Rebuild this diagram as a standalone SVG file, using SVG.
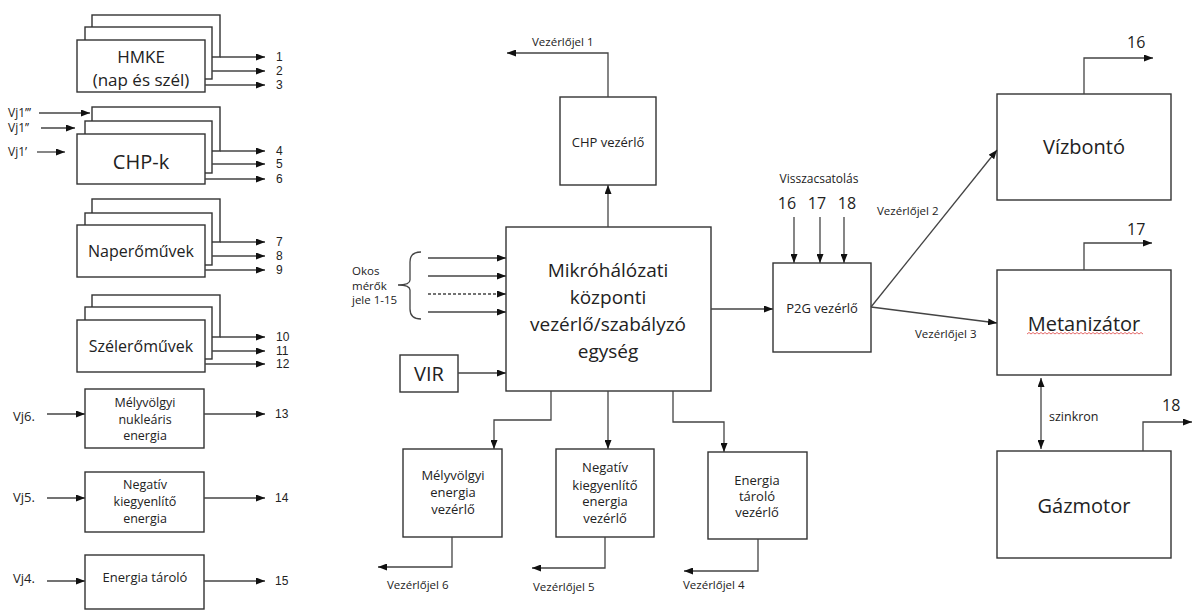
<svg xmlns="http://www.w3.org/2000/svg" width="1192" height="612" viewBox="0 0 1192 612">
<defs>
<marker id="ah" markerWidth="9" markerHeight="7" refX="9" refY="3.5" orient="auto" markerUnits="userSpaceOnUse"><path d="M0,0 L9,3.5 L0,7 Z" fill="#111"/></marker>
<marker id="ahs" markerWidth="9" markerHeight="7" refX="0" refY="3.5" orient="auto" markerUnits="userSpaceOnUse"><path d="M9,0 L0,3.5 L9,7 Z" fill="#111"/></marker>
<style>
.b{fill:#fff;stroke:#333;stroke-width:1.4}
.c{fill:none;stroke:#444;stroke-width:1.3}
.a{marker-end:url(#ah)}
.t{font-family:"Open Sans","Noto Sans",sans-serif;fill:#222}
.m{text-anchor:middle}
.n{font-family:"Liberation Sans","Open Sans",sans-serif;fill:#222;font-size:12px}
</style>
</defs>
<rect width="1192" height="612" fill="#fff"/>

<g id="hmke">
<rect class="b" x="92" y="15" width="128" height="42"/>
<rect class="b" x="85" y="27" width="127" height="52"/>
<rect class="b" x="77" y="40" width="128" height="52"/>
<text class="t m" x="141" y="63" font-size="17">HMKE</text>
<text class="t m" x="141" y="86" font-size="17">(nap és szél)</text>
</g>
<g id="chpk">
<rect class="b" x="92" y="107" width="128" height="44"/>
<rect class="b" x="85" y="121" width="127" height="52"/>
<rect class="b" x="77" y="134" width="128" height="50"/>
<text class="t m" x="141" y="169" font-size="20">CHP-k</text>
</g>
<g id="nap">
<rect class="b" x="92" y="199" width="128" height="43"/>
<rect class="b" x="85" y="213" width="127" height="52"/>
<rect class="b" x="77" y="225" width="128" height="52"/>
<text class="t m" x="141" y="257" font-size="16">Naperőművek</text>
</g>
<g id="szel">
<rect class="b" x="92" y="295" width="128" height="42"/>
<rect class="b" x="85" y="307" width="127" height="52"/>
<rect class="b" x="77" y="320" width="128" height="52"/>
<text class="t m" x="141" y="352" font-size="16">Szélerőművek</text>
</g>
<g id="melyvolgyi">
<rect class="b" x="85" y="389" width="119" height="59"/>
<text class="t m" x="145" y="407" font-size="12.5">Mélyvölgyi</text>
<text class="t m" x="145" y="424" font-size="12.5">nukleáris</text>
<text class="t m" x="145" y="440" font-size="12.5">energia</text>
</g>
<g id="negativ">
<rect class="b" x="85" y="472" width="119" height="60"/>
<text class="t m" x="145" y="489" font-size="12.5">Negatív</text>
<text class="t m" x="145" y="506" font-size="12.5">kiegyenlítő</text>
<text class="t m" x="145" y="523" font-size="12.5">energia</text>
</g>
<g id="energiataro">
<rect class="b" x="85" y="555" width="119" height="54"/>
<text class="t m" x="145" y="582" font-size="13">Energia tároló</text>
</g>

<g id="labels-left">
<text class="n" x="276" y="61">1</text><text class="n" x="276" y="75">2</text><text class="n" x="276" y="89">3</text>
<text class="n" x="276" y="155">4</text><text class="n" x="276" y="168">5</text><text class="n" x="276" y="183">6</text>
<text class="n" x="276" y="246">7</text><text class="n" x="276" y="260">8</text><text class="n" x="276" y="274">9</text>
<text class="n" x="276" y="341">10</text><text class="n" x="276" y="355">11</text><text class="n" x="276" y="368">12</text>
<text class="n" x="275" y="418">13</text><text class="n" x="275" y="502">14</text><text class="n" x="275" y="585">15</text>
<text class="t" x="8" y="117" font-size="12">Vj1’’’</text>
<text class="t" x="8" y="132" font-size="12">Vj1’’</text>
<text class="t" x="8" y="156" font-size="12">Vj1’</text>
<text class="t" x="13" y="421" font-size="13">Vj6.</text>
<text class="t" x="13" y="502" font-size="13">Vj5.</text>
<text class="t" x="13" y="583" font-size="13">Vj4.</text>
</g>

<g id="okos" class="t" font-size="11.5">
<text x="352" y="275">Okos</text>
<text x="352" y="290">mérők</text>
<text x="352" y="304">jele 1-15</text>
</g>

<g id="vir">
<rect class="b" x="400" y="355" width="58" height="37"/>
<text class="t m" x="429" y="381" font-size="20">VIR</text>
</g>

<g id="main">
<rect class="b" x="506" y="227" width="205" height="164"/>
<text class="t m" x="608" y="277" font-size="19">Mikróhálózati</text>
<text class="t m" x="608" y="304" font-size="19">központi</text>
<text class="t m" x="608" y="331" font-size="19">vezérlő/szabályzó</text>
<text class="t m" x="608" y="358" font-size="19">egység</text>
</g>

<g id="chpvez">
<rect class="b" x="560" y="97" width="96" height="88"/>
<text class="t m" x="608" y="147" font-size="13">CHP vezérlő</text>
</g>

<g id="p2g">
<rect class="b" x="773" y="263" width="98" height="89"/>
<text class="t m" x="822" y="313" font-size="13">P2G vezérlő</text>
</g>

<g id="visszacsatolas" class="t m">
<text x="819" y="183" font-size="12">Visszacsatolás</text>
<text x="787" y="209" font-size="16">16</text>
<text x="817" y="209" font-size="16">17</text>
<text x="847" y="209" font-size="16">18</text>
</g>

<g id="melyvez">
<rect class="b" x="403" y="449" width="99" height="88"/>
<text class="t m" x="453" y="480" font-size="13">Mélyvölgyi</text>
<text class="t m" x="453" y="497" font-size="13">energia</text>
<text class="t m" x="453" y="514" font-size="13">vezérlő</text>
</g>
<g id="negvez">
<rect class="b" x="556" y="449" width="98" height="88"/>
<text class="t m" x="605" y="472" font-size="13">Negatív</text>
<text class="t m" x="605" y="490" font-size="13">kiegyenlítő</text>
<text class="t m" x="605" y="506" font-size="13">energia</text>
<text class="t m" x="605" y="523" font-size="13">vezérlő</text>
</g>
<g id="enervez">
<rect class="b" x="708" y="452" width="99" height="87"/>
<text class="t m" x="757" y="485" font-size="13">Energia</text>
<text class="t m" x="757" y="501" font-size="13">tároló</text>
<text class="t m" x="757" y="517" font-size="13">vezérlő</text>
</g>

<g id="vizbonto">
<rect class="b" x="997" y="94" width="174" height="106"/>
<text class="t m" x="1084" y="154" font-size="20">Vízbontó</text>
</g>
<g id="metanizator">
<rect class="b" x="997" y="270" width="174" height="105"/>
<text class="t m" x="1084" y="331" font-size="20">Metanizátor</text>
<path d="M1027,334 l2,-1.5 l2,1.5 l2,-1.5 l2,1.5 l2,-1.5 l2,1.5 l2,-1.5 l2,1.5 l2,-1.5 l2,1.5 l2,-1.5 l2,1.5 l2,-1.5 l2,1.5 l2,-1.5 l2,1.5 l2,-1.5 l2,1.5 l2,-1.5 l2,1.5 l2,-1.5 l2,1.5 l2,-1.5 l2,1.5 l2,-1.5 l2,1.5 l2,-1.5 l2,1.5 l2,-1.5 l2,1.5 l2,-1.5 l2,1.5 l2,-1.5 l2,1.5 l2,-1.5 l2,1.5 l2,-1.5 l2,1.5 l2,-1.5 l2,1.5 l2,-1.5 l2,1.5 l2,-1.5 l2,1.5 l2,-1.5 l2,1.5 l2,-1.5 l2,1.5 l2,-1.5 l2,1.5 l2,-1.5 l2,1.5 l2,-1.5 l2,1.5 l2,-1.5 l2,1.5 l2,-1.5 l2,1.5" fill="none" stroke="#d44" stroke-width="0.8"/>
</g>
<g id="gazmotor">
<rect class="b" x="997" y="451" width="174" height="107"/>
<text class="t m" x="1084" y="513" font-size="20">Gázmotor</text>
</g>

<g id="conn-labels" class="t" font-size="11.5">
<text x="532" y="46">Vezérlőjel 1</text>
<text x="877" y="215">Vezérlőjel 2</text>
<text x="915" y="338">Vezérlőjel 3</text>
<text x="387" y="589">Vezérlőjel 6</text>
<text x="533" y="591">Vezérlőjel 5</text>
<text x="683" y="589">Vezérlőjel 4</text>
<text x="1049" y="421" font-size="12.5">szinkron</text>
<text x="1127" y="48" font-size="16">16</text>
<text x="1127" y="235" font-size="16">17</text>
<text x="1162" y="411" font-size="16">18</text>
</g>

<g id="connectors">
<path class="c a" d="M220,57 H265"/>
<path class="c a" d="M212,71 H265"/>
<path class="c a" d="M205,85 H265"/>
<path class="c a" d="M220,151 H265"/>
<path class="c a" d="M212,164 H265"/>
<path class="c a" d="M205,179 H265"/>
<path class="c a" d="M220,242 H265"/>
<path class="c a" d="M212,256 H265"/>
<path class="c a" d="M205,270 H265"/>
<path class="c a" d="M220,337 H265"/>
<path class="c a" d="M212,351 H265"/>
<path class="c a" d="M205,364 H265"/>
<path class="c a" d="M204,414 H265"/>
<path class="c a" d="M204,498 H265"/>
<path class="c a" d="M204,581 H265"/>
<path class="c a" d="M39,113 H90"/>
<path class="c a" d="M41,128 H75"/>
<path class="c a" d="M37,152 H65"/>
<path class="c a" d="M47,414 H85"/>
<path class="c a" d="M47,498 H85"/>
<path class="c a" d="M47,581 H85"/>
<path class="c" d="M421,252 Q410,252 410,262 V280 Q410,285 398,285 Q410,285 410,290 V309 Q410,319 421,319"/>
<path class="c a" d="M428,258 H506"/>
<path class="c a" d="M428,276 H506"/>
<path class="c a" d="M428,294 H506" stroke-dasharray="3,2"/>
<path class="c a" d="M428,312 H506"/>
<path class="c a" d="M458,373 H506"/>
<path class="c a" d="M608,227 V185"/>
<path class="c a" d="M608,97 V53 H507"/>
<path class="c a" d="M711,309 H773"/>
<path class="c a" d="M794,217 V263"/>
<path class="c a" d="M820,217 V263"/>
<path class="c a" d="M844,217 V263"/>
<path class="c a" d="M871,307 L997,150"/>
<path class="c a" d="M871,307 L997,323"/>
<path class="c a" d="M1084,94 V58 H1153"/>
<path class="c a" d="M1084,270 V243 H1152"/>
<path class="c a" d="M1041,378 V449" marker-start="url(#ahs)"/>
<path class="c a" d="M1143,451 V422 H1192"/>
<path class="c a" d="M551,391 V420 H494 V449"/>
<path class="c a" d="M608,391 V449"/>
<path class="c a" d="M673,391 V422 H724 V452"/>
<path class="c a" d="M452,537 V567 H378"/>
<path class="c a" d="M605,537 V568 H532"/>
<path class="c a" d="M758,539 V571 H684"/>
</g>
</svg>
